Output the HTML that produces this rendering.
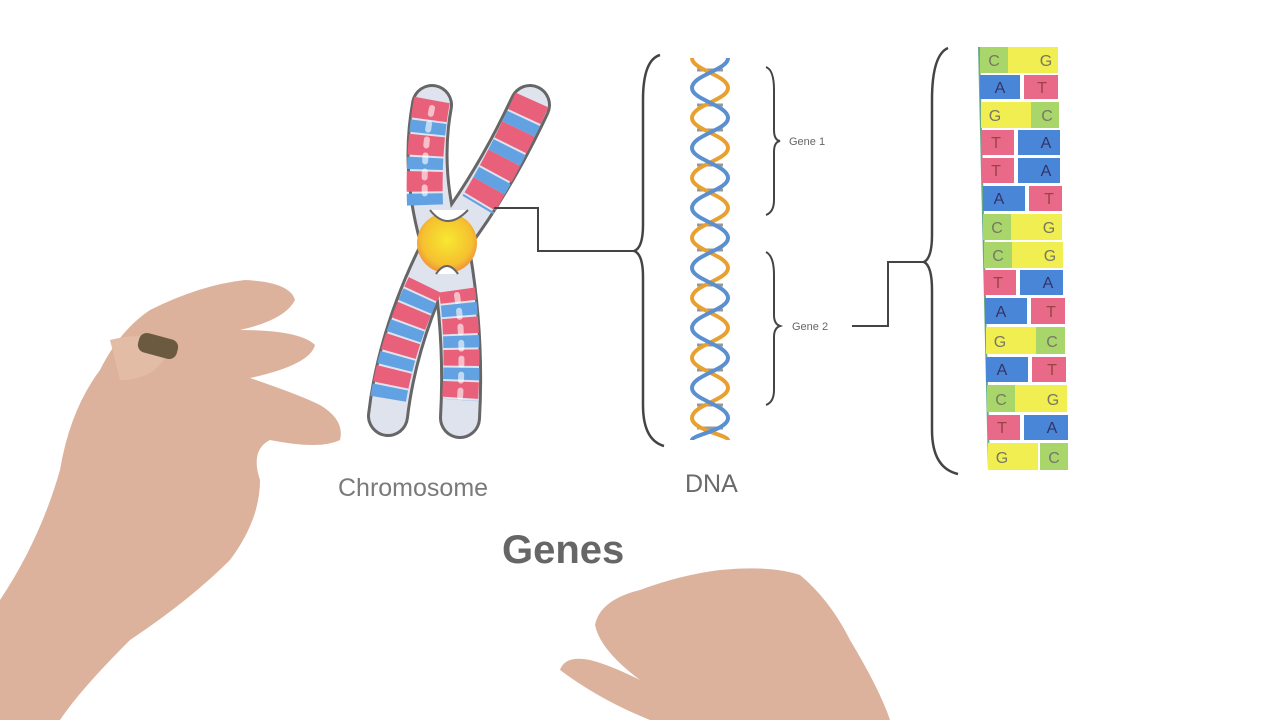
<!DOCTYPE html>
<html><head><meta charset="utf-8"><style>
html,body{margin:0;padding:0;background:#fff;width:1280px;height:720px;overflow:hidden}
svg{display:block}
</style></head><body>
<svg width="1280" height="720" viewBox="0 0 1280 720" xmlns="http://www.w3.org/2000/svg" font-family="Liberation Sans, sans-serif">
<rect width="1280" height="720" fill="#fff"/>
<defs>
<radialGradient id="cg" cx="0.5" cy="0.45" r="0.6"><stop offset="0" stop-color="#f8e830"/><stop offset="0.7" stop-color="#f5c030"/><stop offset="1" stop-color="#f08040"/></radialGradient>
</defs>
<!-- chromosome -->
<g stroke-linecap="round" fill="none">
<g stroke="#666" stroke-width="42">
<path d="M432 105 Q420 170 440 240"/>
<path d="M530 105 Q495 180 450 240"/>
<path d="M445 240 Q398 330 388 416"/>
<path d="M448 240 Q465 330 460 418"/>
</g>
<g stroke="#dfe3ee" stroke-width="36">
<path d="M432 105 Q420 170 440 240"/>
<path d="M530 105 Q495 180 450 240"/>
<path d="M445 240 Q398 330 388 416"/>
<path d="M448 240 Q465 330 460 418"/>
</g>
<g stroke-width="36" stroke-linecap="butt">
<path d="M432 100 Q423 150 425 205" stroke="#e9607a" stroke-dasharray="20 16"/>
<path d="M532 100 Q505 160 478 205" stroke="#e9607a" stroke-dasharray="18 14"/>
<path d="M425 285 Q398 340 388 400" stroke="#e9607a" stroke-dasharray="16 16" stroke-dashoffset="6"/>
<path d="M457 290 Q464 340 460 400" stroke="#e9607a" stroke-dasharray="16 16" stroke-dashoffset="4"/>
<path d="M432 100 Q423 150 425 205" stroke="#62a2e2" stroke-dasharray="12 24" stroke-dashoffset="-22"/>
<path d="M532 100 Q505 160 478 205" stroke="#62a2e2" stroke-dasharray="12 20" stroke-dashoffset="-20"/>
<path d="M425 285 Q398 340 388 400" stroke="#62a2e2" stroke-dasharray="12 20" stroke-dashoffset="-12"/>
<path d="M457 290 Q464 340 460 400" stroke="#62a2e2" stroke-dasharray="12 20" stroke-dashoffset="-14"/>
</g>
<g stroke="#fff" stroke-width="6" opacity=".6">
<path d="M432 108 Q423 150 425 200" stroke-dasharray="6 10"/>
<path d="M457 295 Q464 340 460 398" stroke-dasharray="6 10"/>
</g>
</g>
<ellipse cx="447" cy="243" rx="30" ry="30" fill="url(#cg)"/>
<path d="M430 210 Q447 232 468 210" fill="#fff" stroke="#666" stroke-width="2"/>
<path d="M436 274 Q447 258 458 274" fill="#fff" stroke="#666" stroke-width="2"/>
<!-- connectors -->
<g stroke="#444" stroke-width="2" fill="none">
<path d="M494 208 H538 V251 H636"/>
<path d="M852 326 H888 V262 H926"/>
<path d="M660 55 Q643 60 643 100 V225 Q643 248 634 251 Q643 254 643 277 V405 Q643 440 664 446" stroke-width="2.5"/>
<path d="M766 67 Q774 70 774 90 V130 Q774 140 780 141 Q774 142 774 152 V200 Q774 212 766 215"/>
<path d="M766 252 Q774 256 774 275 V315 Q774 324 780 326 Q774 328 774 337 V390 Q774 402 766 405"/>
<path d="M948 48 Q932 55 932 100 V235 Q932 258 924 262 Q932 266 932 290 V430 Q932 468 958 474" stroke-width="2.5"/>
</g>
<text x="789" y="145" font-size="11" fill="#666">Gene 1</text>
<text x="792" y="330" font-size="11" fill="#666">Gene 2</text>
<!-- DNA helix -->
<g stroke="#999" stroke-width="3">
<line x1="697" y1="70" x2="723" y2="70"/><line x1="697" y1="105" x2="723" y2="105"/><line x1="697" y1="130" x2="723" y2="130"/><line x1="697" y1="165" x2="723" y2="165"/><line x1="697" y1="190" x2="723" y2="190"/><line x1="697" y1="225" x2="723" y2="225"/><line x1="697" y1="250" x2="723" y2="250"/><line x1="697" y1="285" x2="723" y2="285"/><line x1="697" y1="310" x2="723" y2="310"/><line x1="697" y1="345" x2="723" y2="345"/><line x1="697" y1="370" x2="723" y2="370"/><line x1="697" y1="405" x2="723" y2="405"/><line x1="697" y1="428" x2="723" y2="428"/>
</g>
<g fill="none" stroke-width="4">
<path d="M692 58 C692 70 728 75 728 88 C728 100 692 105 692 118 C692 130 728 135 728 148 C728 160 692 165 692 178 C692 190 728 195 728 208 C728 220 692 225 692 238 C692 250 728 255 728 268 C728 280 692 285 692 298 C692 310 728 315 728 328 C728 340 692 345 692 358 C692 370 728 375 728 388 C728 400 692 405 692 418 C692 430 728 435 728 440" stroke="#e8a030"/>
<path d="M728 58 C728 70 692 75 692 88 C692 100 728 105 728 118 C728 130 692 135 692 148 C692 160 728 165 728 178 C728 190 692 195 692 208 C692 220 728 225 728 238 C728 250 692 255 692 268 C692 280 728 285 728 298 C728 310 692 315 692 328 C692 340 728 345 728 358 C728 370 692 375 692 388 C692 400 728 405 728 418 C728 430 692 435 692 440" stroke="#5a8fd0"/>
</g>
<!-- base column -->
<g font-size="16" text-anchor="middle">
<line x1="979" y1="47" x2="989" y2="470" stroke="#6a8" stroke-width="2"/>
<g transform="translate(980,47)"><rect width="28" height="26" fill="#a8d66a"/><rect x="28" width="50" height="26" fill="#f0ee50"/><text x="14" y="19" fill="#776">C</text><text x="66" y="19" fill="#776">G</text></g>
<g transform="translate(980,75)"><rect width="40" height="24" fill="#4a86d8"/><rect x="44" width="34" height="24" fill="#e86a88"/><text x="20" y="18" fill="#336">A</text><text x="62" y="18" fill="#944">T</text></g>
<g transform="translate(981,102)"><rect width="50" height="26" fill="#f0ee50"/><rect x="50" width="28" height="26" fill="#a8d66a"/><text x="14" y="19" fill="#776">G</text><text x="66" y="19" fill="#776">C</text></g>
<g transform="translate(982,130)"><rect width="32" height="25" fill="#e86a88"/><rect x="36" width="42" height="25" fill="#4a86d8"/><text x="14" y="18" fill="#944">T</text><text x="64" y="18" fill="#336">A</text></g>
<g transform="translate(982,158)"><rect width="32" height="25" fill="#e86a88"/><rect x="36" width="42" height="25" fill="#4a86d8"/><text x="14" y="18" fill="#944">T</text><text x="64" y="18" fill="#336">A</text></g>
<g transform="translate(983,186)"><rect width="42" height="25" fill="#4a86d8"/><rect x="46" width="33" height="25" fill="#e86a88"/><text x="16" y="18" fill="#336">A</text><text x="66" y="18" fill="#944">T</text></g>
<g transform="translate(983,214)"><rect width="28" height="26" fill="#a8d66a"/><rect x="28" width="51" height="26" fill="#f0ee50"/><text x="14" y="19" fill="#776">C</text><text x="66" y="19" fill="#776">G</text></g>
<g transform="translate(984,242)"><rect width="28" height="26" fill="#a8d66a"/><rect x="28" width="51" height="26" fill="#f0ee50"/><text x="14" y="19" fill="#776">C</text><text x="66" y="19" fill="#776">G</text></g>
<g transform="translate(984,270)"><rect width="32" height="25" fill="#e86a88"/><rect x="36" width="43" height="25" fill="#4a86d8"/><text x="14" y="18" fill="#944">T</text><text x="64" y="18" fill="#336">A</text></g>
<g transform="translate(985,298)"><rect width="42" height="26" fill="#4a86d8"/><rect x="46" width="34" height="26" fill="#e86a88"/><text x="16" y="19" fill="#336">A</text><text x="66" y="19" fill="#944">T</text></g>
<g transform="translate(986,327)"><rect width="50" height="27" fill="#f0ee50"/><rect x="50" width="29" height="27" fill="#a8d66a"/><text x="14" y="20" fill="#776">G</text><text x="66" y="20" fill="#776">C</text></g>
<g transform="translate(986,357)"><rect width="42" height="25" fill="#4a86d8"/><rect x="46" width="34" height="25" fill="#e86a88"/><text x="16" y="18" fill="#336">A</text><text x="66" y="18" fill="#944">T</text></g>
<g transform="translate(987,385)"><rect width="28" height="27" fill="#a8d66a"/><rect x="28" width="52" height="27" fill="#f0ee50"/><text x="14" y="20" fill="#776">C</text><text x="66" y="20" fill="#776">G</text></g>
<g transform="translate(988,415)"><rect width="32" height="25" fill="#e86a88"/><rect x="36" width="44" height="25" fill="#4a86d8"/><text x="14" y="18" fill="#944">T</text><text x="64" y="18" fill="#336">A</text></g>
<g transform="translate(988,443)"><rect width="50" height="27" fill="#f0ee50"/><rect x="52" width="28" height="27" fill="#a8d66a"/><text x="14" y="20" fill="#776">G</text><text x="66" y="20" fill="#776">C</text></g>
</g>
<!-- labels -->
<text x="338" y="496" font-size="25" fill="#7a7a7a">Chromosome</text>
<text x="685" y="492" font-size="25" fill="#6a6a6a">DNA</text>
<text x="502" y="563" font-size="40" font-weight="bold" fill="#666">Genes</text>
<!-- left hand -->
<g fill="#dcb29c">
<path d="M0 600 Q40 540 60 470 Q70 410 100 370 Q120 330 150 310 Q200 285 245 280 Q290 282 295 300 Q285 320 240 330 Q300 330 315 345 Q310 365 250 378 Q300 395 320 405 Q345 420 340 440 Q320 450 270 440 Q250 450 260 480 Q260 520 230 560 Q190 600 130 640 Q80 690 60 720 H0Z"/>
<path d="M110 340 Q150 330 170 345 Q160 380 120 380Z" fill="#e3bca6"/>
</g>
<rect x="138" y="336" width="40" height="20" rx="8" fill="#6b5a40" transform="rotate(15 158 346)"/>
<!-- right hand -->
<g fill="#dcb29c">
<path d="M560 670 Q565 655 590 660 Q610 665 640 680 Q600 650 595 625 Q600 600 640 590 Q680 575 720 570 Q770 565 800 575 Q830 600 850 640 Q880 690 890 720 H650 Q600 700 560 670Z"/>
</g>
</svg>
</body></html>
